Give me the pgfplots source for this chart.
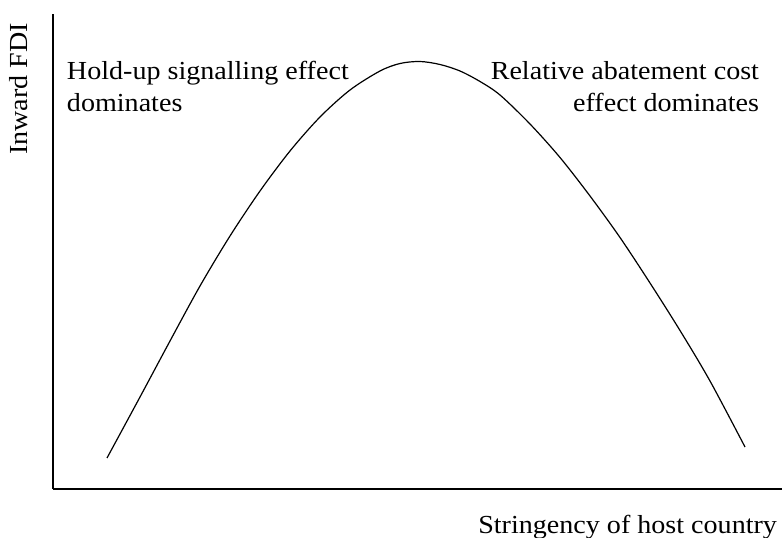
\documentclass[border=0pt]{standalone}
\usepackage{fontspec}
\setmainfont{Liberation Serif}[FakeStretch=1.08]
\usepackage{pgfplots}
\pgfplotsset{compat=1.18}
\tikzset{lbl/.style={font=\fontsize{26bp}{32bp}\selectfont, inner sep=0pt, outer sep=0pt}}
\begin{document}
\begin{tikzpicture}
\begin{axis}[
  scale only axis,
  width=729bp, height=475bp,
  xmin=53, xmax=782, ymin=49, ymax=524,
  axis lines=left,
  axis line style={-, line width=2bp, black},
  xtick=\empty, ytick=\empty,
  clip=false,
]
\addplot[smooth, black, line width=1.2bp, mark=none] coordinates {
(107,80) (140,141) (170,197) (200,252) (230,302) (260,347) (290,387)
(320,421) (350,448) (380,467) (400,474.5) (420,476.5)
(440,473.5) (460,467) (480,456.5) (500,443) (530,414) (560,380.5)
(590,342) (620,300.5) (650,255) (680,207.5) (710,157) (745,91)
};
\node[lbl, anchor=base west] at (axis cs:67,458) {Hold-up signalling effect};
\node[lbl, anchor=base west] at (axis cs:67,426) {dominates};
\node[lbl, anchor=base east] at (axis cs:759,458) {Relative abatement cost};
\node[lbl, anchor=base east] at (axis cs:759,426) {effect dominates};
\node[lbl, anchor=base east, rotate=90] at (axis cs:28,515) {Inward FDI};
\node[lbl, anchor=base east] at (axis cs:777,5) {Stringency of host country};
\coordinate (bbl) at (axis cs:0,0);
\coordinate (btr) at (axis cs:782,538);
\end{axis}
\pgfresetboundingbox
\path[use as bounding box] (bbl) rectangle (btr);
\end{tikzpicture}
\end{document}
